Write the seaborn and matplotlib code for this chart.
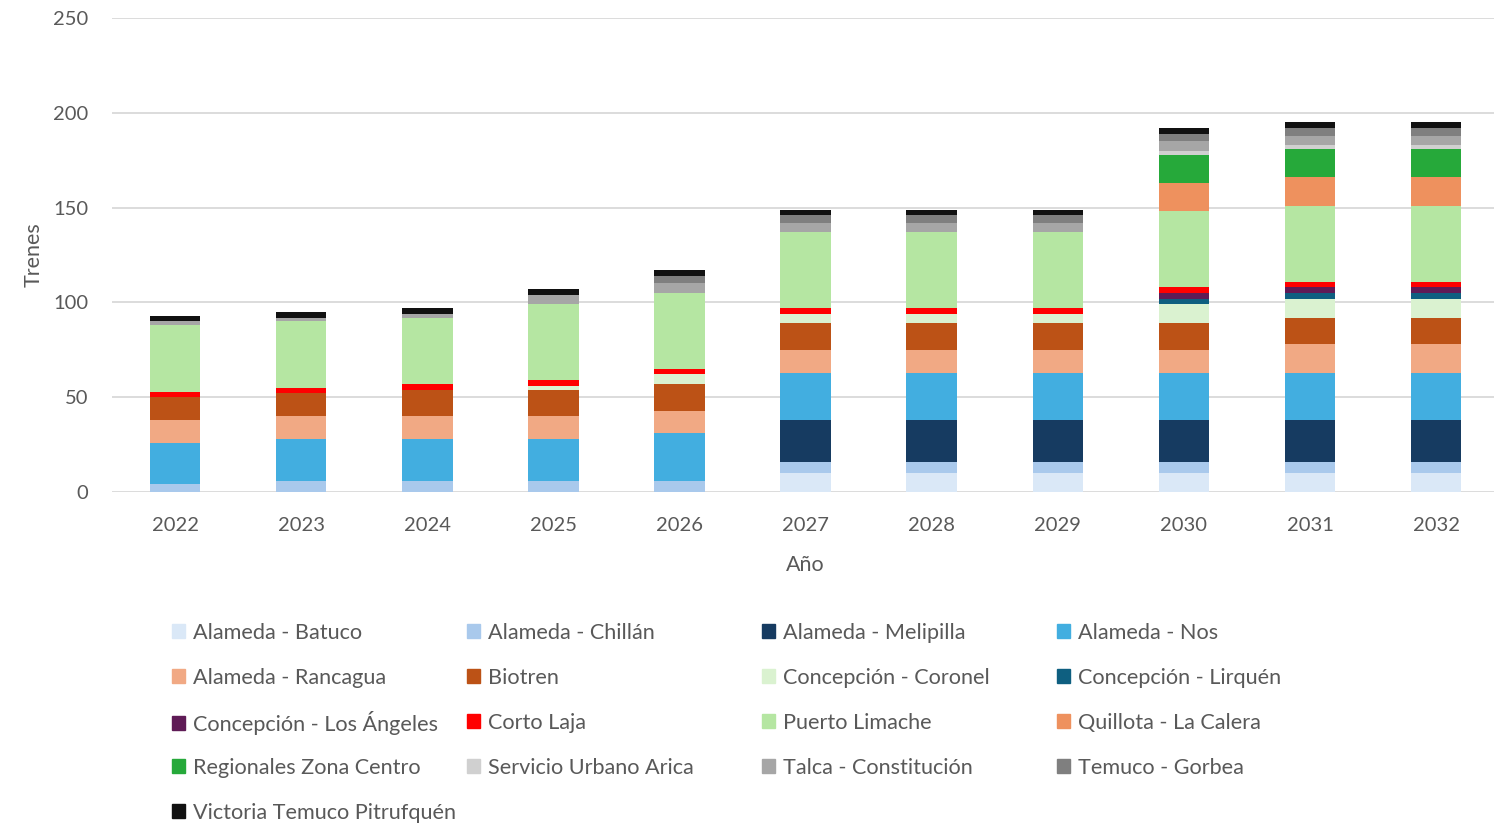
import matplotlib
matplotlib.use('Agg')
import matplotlib.pyplot as plt
import matplotlib.patches as mpatches
import pandas as pd
import seaborn as sns

# data (trains per service and year)
years = [2022, 2023, 2024, 2025, 2026, 2027, 2028, 2029, 2030, 2031, 2032]
services = ['Alameda - Batuco', 'Alameda - Chillán', 'Alameda - Melipilla', 'Alameda - Nos',
            'Alameda - Rancagua', 'Biotren', 'Concepción - Coronel', 'Concepción - Lirquén',
            'Concepción - Los Ángeles', 'Corto Laja', 'Puerto Limache', 'Quillota - La Calera',
            'Regionales Zona Centro', 'Servicio Urbano Arica', 'Talca - Constitución',
            'Temuco - Gorbea', 'Victoria Temuco Pitrufquén']

batuco = [0, 0, 0, 0, 0, 10, 10, 10, 10, 10, 10]
chillan = [4, 6, 6, 6, 6, 6, 6, 6, 6, 6, 6]
melipilla = [0, 0, 0, 0, 0, 22, 22, 22, 22, 22, 22]
nos = [22, 22, 22, 22, 25, 25, 25, 25, 25, 25, 25]
rancagua = [12, 12, 12, 12, 12, 12, 12, 12, 12, 15, 15]
biotren = [12, 12, 14, 14, 14, 14, 14, 14, 14, 14, 14]
coronel = [0, 0, 0, 2, 5, 5, 5, 5, 10, 10, 10]
lirquen = [0, 0, 0, 0, 0, 0, 0, 0, 3, 3, 3]
los_angeles = [0, 0, 0, 0, 0, 0, 0, 0, 3, 3, 3]
corto_laja = [3, 3, 3, 3, 3, 3, 3, 3, 3, 3, 3]
limache = [35, 35, 35, 40, 40, 40, 40, 40, 40, 40, 40]
quillota = [0, 0, 0, 0, 0, 0, 0, 0, 15, 15, 15]
regionales = [0, 0, 0, 0, 0, 0, 0, 0, 15, 15, 15]
arica = [0, 0, 0, 0, 0, 0, 0, 0, 2, 2, 2]
talca = [2, 2, 2, 5, 5, 5, 5, 5, 5, 5, 5]
temuco = [0, 0, 0, 0, 4, 4, 4, 4, 4, 4, 4]
victoria = [3, 3, 3, 3, 3, 3, 3, 3, 3, 3, 3]

series = [batuco, chillan, melipilla, nos, rancagua, biotren, coronel, lirquen, los_angeles,
          corto_laja, limache, quillota, regionales, arica, talca, temuco, victoria]

colors = ['#DAE8F7', '#A9C9EC', '#163B61', '#42AEE0', '#F1A984', '#BC5216', '#DAF2D0',
          '#0E5F80', '#5F1B56', '#FF0000', '#B5E6A2', '#EE915E', '#26A93A', '#D0D0D0',
          '#A6A6A6', '#7F7F7F', '#111111']

# long table + cumulative heights for stacking
df = pd.DataFrame({'Año': years, **dict(zip(services, series))})
long = df.melt(id_vars='Año', var_name='Servicio', value_name='Trenes')
long['acum'] = long.groupby('Año')['Trenes'].cumsum()

sns.set_style('white')
plt.rcParams['font.family'] = ['Lato', 'DejaVu Sans']
text_col = '#595959'

fig = plt.figure(figsize=(14.94, 8.25), dpi=100)
ax = fig.add_axes([0.075, 0.4036, 0.9284, 0.5745])

# draw from the top layer down so each lower layer covers the one above
for serv, col in reversed(list(zip(services, colors))):
    sub = long[long['Servicio'] == serv]
    sns.barplot(data=sub, x='Año', y='acum', color=col, saturation=1, width=0.4,
                errorbar=None, linewidth=0, ax=ax)

ax.set_ylim(0, 250)
ax.set_yticks(range(0, 251, 50))
ax.yaxis.grid(True, color='#D9D9D9', linewidth=1.3)
ax.set_axisbelow(True)
for sp in ax.spines.values():
    sp.set_visible(False)
ax.tick_params(axis='both', length=0, labelsize=14.5, labelcolor=text_col)
ax.tick_params(axis='y', pad=17)
ax.tick_params(axis='x', pad=18)
ax.set_xlabel('Año', fontsize=15.5, color=text_col, labelpad=15)
ax.set_ylabel('Trenes', fontsize=15.5, color=text_col, labelpad=7)

# legend: 4 fixed columns filled row by row, like the original
col_x = [172, 467, 762, 1057]
row_y = [633, 678, 723, 768, 813]
for i, (serv, col) in enumerate(zip(services, colors)):
    r, c = divmod(i, 4)
    fig.legend(handles=[mpatches.Patch(color=col, label=serv)], loc='center left',
               bbox_to_anchor=(col_x[c] / 1494, 1 - row_y[r] / 825),
               frameon=False, fontsize=15.6, handlelength=0.62, handleheight=0.62,
               handletextpad=0.33, labelcolor=text_col, borderaxespad=0, borderpad=0)

fig.savefig('out.png', dpi=100)
